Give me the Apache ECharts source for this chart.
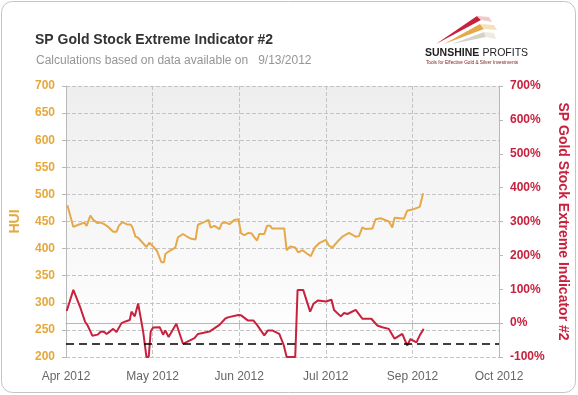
<!DOCTYPE html>
<html>
<head>
<meta charset="utf-8">
<script src="https://cdn.jsdelivr.net/npm/echarts@6/dist/echarts.min.js"></script>
<style>
html,body{margin:0;padding:0;background:#fff;}
#chart{width:578px;height:395px;}
</style>
</head>
<body>
<div id="chart"></div>
<script>
// X axis tick labels (axis runs 0..5 in tick units)
const xLabels = ['Apr 2012', 'May 2012', 'Jun 2012', 'Jul 2012', 'Sep 2012', 'Oct 2012'];

// HUI (left axis) – positions in tick units and values
const huiPos = [0.016,0.035,0.085,0.143,0.212,0.238,0.281,0.315,0.365,0.403,0.442,0.488,0.545,0.583,0.610,0.652,0.699,0.748,0.768,0.802,0.833,0.929,0.963,1.006,1.050,1.101,1.132,1.147,1.197,1.262,1.293,1.351,1.409,1.446,1.496,1.524,1.581,1.646,1.669,1.715,1.772,1.800,1.849,1.887,1.945,1.991,2.002,2.022,2.060,2.106,2.145,2.168,2.206,2.232,2.290,2.321,2.359,2.379,2.520,2.548,2.589,2.647,2.681,2.732,2.781,2.827,2.873,2.923,3.000,3.038,3.077,3.135,3.192,3.268,3.345,3.383,3.422,3.460,3.537,3.575,3.633,3.728,3.768,3.794,3.863,3.901,3.940,3.998,4.085,4.124];
const huiVal = [480,479,440,444,448,442,461,453,447,448,445,440,431,431,442,449,445,444,439,422,420,403,411,404,396,375,375,390,396,402,421,427,421,418,417,444,448,453,439,442,436,447,448,445,453,454,452,428,425,429,428,422,415,427,427,442,442,437,437,397,404,402,393,397,391,386,402,410,416,405,402,413,422,429,422,423,439,436,437,454,456,450,439,457,456,455,470,472,477,502];

// SP Gold Stock Extreme Indicator #2 (right axis, %) – positions and values
const indPos = [0.008,0.028,0.085,0.104,0.161,0.219,0.250,0.304,0.365,0.403,0.442,0.468,0.506,0.545,0.583,0.641,0.687,0.736,0.756,0.794,0.833,0.891,0.929,0.955,0.978,1.006,1.082,1.121,1.147,1.185,1.274,1.351,1.484,1.524,1.657,1.772,1.838,1.869,1.991,2.022,2.099,2.163,2.206,2.290,2.329,2.387,2.463,2.513,2.548,2.647,2.674,2.739,2.819,2.858,2.911,3.000,3.066,3.095,3.173,3.211,3.250,3.345,3.422,3.526,3.595,3.652,3.728,3.794,3.883,3.940,3.978,4.047,4.085,4.131];
const indVal = [36,36,98,98,49,5,-7,-37,-34,-25,-26,-32,-25,-17,-26,0,5,9,34,20,58,-25,-100,-100,-25,-13,-12,-34,-22,-41,-2,-61,-44,-32,-25,-5,13,17,24,23,8,8,-5,-36,-22,-22,-32,-64,-100,-100,98,98,34,57,67,64,69,39,20,30,27,39,13,13,-7,-12,-17,-46,-32,-66,-47,-57,-36,-17];

// Threshold level (%)
const thresholdLevel = -60;

const ORANGE = '#E6A94A';
const ORANGE_TXT = '#E5A83C';
const RED = '#C8213D';
const FONT = 'Liberation Sans, Arial, sans-serif';

const chart = echarts.init(document.getElementById('chart'), null, {renderer: 'canvas'});

const option = {
  backgroundColor: '#ffffff',
  animation: false,
  textStyle: {fontFamily: FONT},
  title: [
    {text: 'SP Gold Stock Extreme Indicator #2', left: 30, top: 28,
     textStyle: {fontSize: 14, fontWeight: 'bold', color: '#333333', fontFamily: FONT}},
    {text: 'Calculations based on data available on   9/13/2012', left: 31, top: 50,
     textStyle: {fontSize: 12, fontWeight: 'normal', color: '#959595', fontFamily: FONT}}
  ],
  grid: {
    left: 64, right: 79, top: 86, bottom: 38,
    show: true, borderWidth: 0,
    backgroundColor: {type: 'linear', x: 0, y: 0, x2: 0, y2: 1,
      colorStops: [{offset: 0, color: '#eeeeee'}, {offset: 1, color: '#ffffff'}]}
  },
  xAxis: {
    type: 'value', min: 0, max: 5, interval: 1,
    axisLine: {show: true, lineStyle: {color: '#b8b8b8', width: 1}},
    axisTick: {show: true, length: 4, lineStyle: {color: '#b8b8b8'}},
    axisLabel: {formatter: v => xLabels[Math.round(v)] || '', color: '#666666', fontSize: 12, margin: 14, fontFamily: FONT},
    splitLine: {show: true, lineStyle: {type: 'dashed', color: '#c4c4c4'}}
  },
  yAxis: [
    {
      type: 'value', position: 'left', min: 200, max: 700, interval: 50,
      name: 'HUI', nameLocation: 'middle', nameGap: 44, nameRotate: 90,
      nameTextStyle: {color: ORANGE_TXT, fontSize: 14, fontWeight: 'bold', fontFamily: FONT},
      axisLine: {show: true, lineStyle: {color: '#b8b8b8'}},
      axisTick: {show: true, length: 4, lineStyle: {color: '#b8b8b8'}},
      axisLabel: {color: ORANGE_TXT, fontSize: 12, fontWeight: 'bold', margin: 11, fontFamily: FONT},
      splitLine: {show: true, lineStyle: {type: 'dashed', color: '#c4c4c4'}}
    },
    {
      type: 'value', position: 'right', min: -100, max: 700, interval: 100,
      name: 'SP Gold Stock Extreme Indicator #2', nameLocation: 'middle', nameGap: 57, nameRotate: -90,
      nameTextStyle: {color: RED, fontSize: 14, fontWeight: 'bold', fontFamily: FONT},
      axisLine: {show: true, lineStyle: {color: '#b8b8b8'}},
      axisTick: {show: true, length: 4, lineStyle: {color: '#b8b8b8'}},
      axisLabel: {color: RED, fontSize: 12, fontWeight: 'bold', margin: 11, formatter: '{value}%', fontFamily: FONT},
      splitLine: {show: false}
    }
  ],
  series: [
    {
      name: 'HUI', type: 'line', yAxisIndex: 0, showSymbol: false,
      data: huiPos.map((p, i) => [p, huiVal[i]]),
      lineStyle: {color: ORANGE, width: 2}, itemStyle: {color: ORANGE}
    },
    {
      name: 'SP Gold Stock Extreme Indicator #2', type: 'line', yAxisIndex: 1, showSymbol: false,
      data: indPos.map((p, i) => [p, indVal[i]]),
      lineStyle: {color: RED, width: 2}, itemStyle: {color: RED},
      markLine: {
        silent: true, symbol: 'none', label: {show: false},
        lineStyle: {color: '#000000', type: [8, 5], width: 1.5},
        data: [{yAxis: thresholdLevel}]
      }
    }
  ],
  graphic: [
    {type: 'rect', shape: {x: 1.5, y: 1.5, width: 574, height: 391, r: 11}, silent: true,
     style: {fill: 'none', stroke: '#c4c4c4', lineWidth: 1}, z: 100},
    // logo swooshes
    {type: 'polygon', shape: {points: [[436, 44], [477, 16], [481, 20]]}, style: {fill: '#C8213D'}},
    {type: 'polygon', shape: {points: [[477, 16], [481, 20], [492, 22], [489, 17]]}, style: {fill: '#f0c9c9'}},
    {type: 'polygon', shape: {points: [[444, 44], [480, 24], [484, 29]]}, style: {fill: '#E6A94A'}},
    {type: 'polygon', shape: {points: [[480, 24], [484, 29], [497, 30], [494, 25]]}, style: {fill: '#f5e2bd'}},
    {type: 'polygon', shape: {points: [[452, 44], [484, 32], [486, 37]]}, style: {fill: '#d8d2c6'}},
    {type: 'polygon', shape: {points: [[484, 32], [486, 37], [496, 39], [494, 33]]}, style: {fill: '#eeeae3'}},
    {type: 'text', x: 425, y: 53, silent: true,
     style: {text: '{b|SUNSHINE} {n|PROFITS}', verticalAlign: 'middle',
       rich: {b: {fontSize: 10.5, fontWeight: 'bold', fill: '#222222', fontFamily: FONT},
              n: {fontSize: 10.5, fontWeight: 'normal', fill: '#222222', fontFamily: FONT}}}},
    {type: 'text', x: 426, y: 62.5, silent: true,
     style: {text: 'Tools for Effective Gold & Silver Investments', verticalAlign: 'middle',
       fontSize: 4.7, fill: '#7a1a1a', fontFamily: FONT}}
  ]
};

chart.setOption(option);
</script>
</body>
</html>
